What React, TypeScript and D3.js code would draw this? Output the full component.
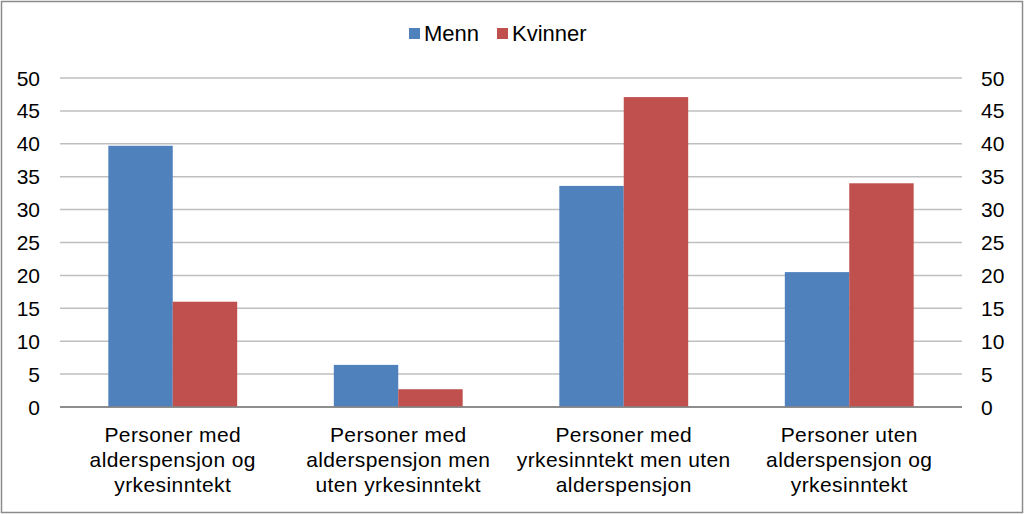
import React from "react";
import * as d3 from "d3";

const categories: string[][] = [
  ["Personer med", "alderspensjon og", "yrkesinntekt"],
  ["Personer med", "alderspensjon men", "uten yrkesinntekt"],
  ["Personer med", "yrkesinntekt men uten", "alderspensjon"],
  ["Personer uten", "alderspensjon og", "yrkesinntekt"],
];
const seriesNames = ["Menn", "Kvinner"];
const menn = [39.7, 6.4, 33.6, 20.5];
const kvinner = [16.0, 2.7, 47.1, 34.0];
const yTicks = [0, 5, 10, 15, 20, 25, 30, 35, 40, 45, 50];
const colors = ["#4F81BD", "#C0504D"];

export default function App() {
  const W = 1024, H = 514;
  const left = 60, right = 962, top = 78, bottom = 407;
  const x = d3.scaleBand<number>().domain(d3.range(categories.length)).range([left, right]).paddingInner(0).paddingOuter(0);
  const bw = x.bandwidth();
  const barW = bw / 3.5;
  const y = d3.scaleLinear().domain([0, 50]).range([bottom, top]);
  const data = [menn, kvinner];
  const font = "Liberation Sans, Arial, sans-serif";
  return (
    <svg width={W} height={H} style={{ position: "absolute", left: 0, top: 0 }} fontFamily={font}>
      <rect x={0} y={0} width={W} height={H} fill="#fff" />
      <rect x={1.5} y={1.5} width={W - 3} height={H - 3} fill="none" stroke="#8c8c8c" strokeWidth={1.5} />
      {yTicks.map((t) => (
        <line key={t} x1={left} x2={right} y1={y(t)} y2={y(t)} stroke={t === 0 ? "#868686" : "#BFBFBF"} strokeWidth={1.5} />
      ))}
      {data.map((s, si) =>
        s.map((v, i) => (
          <rect key={si + "-" + i} x={(x(i) as number) + barW * 0.75 + si * barW} y={y(v)} width={barW} height={bottom - y(v)} fill={colors[si]} />
        ))
      )}
      <line x1={left} x2={right} y1={bottom} y2={bottom} stroke="#868686" strokeWidth={1.5} />
      {yTicks.map((t) => (
        <text key={"l" + t} x={40} y={y(t) + 7.5} textAnchor="end" fontSize={21} fill="#000">{t}</text>
      ))}
      {yTicks.map((t) => (
        <text key={"r" + t} x={981} y={y(t) + 7.5} textAnchor="start" fontSize={21} fill="#000">{t}</text>
      ))}
      {categories.map((lines, i) => (
        <text key={"c" + i} x={(x(i) as number) + bw / 2} textAnchor="middle" fontSize={21} letterSpacing={0.4} fill="#000">
          {lines.map((l, j) => (
            <tspan key={j} x={(x(i) as number) + bw / 2} y={442 + j * 25}>{l}</tspan>
          ))}
        </text>
      ))}
      <g>
        <rect x={409} y={28} width={11} height={11} fill={colors[0]} />
        <text x={424} y={41} fontSize={22} fill="#000">{seriesNames[0]}</text>
        <rect x={497} y={28} width={11} height={11} fill={colors[1]} />
        <text x={512} y={41} fontSize={22} fill="#000">{seriesNames[1]}</text>
      </g>
    </svg>
  );
}
